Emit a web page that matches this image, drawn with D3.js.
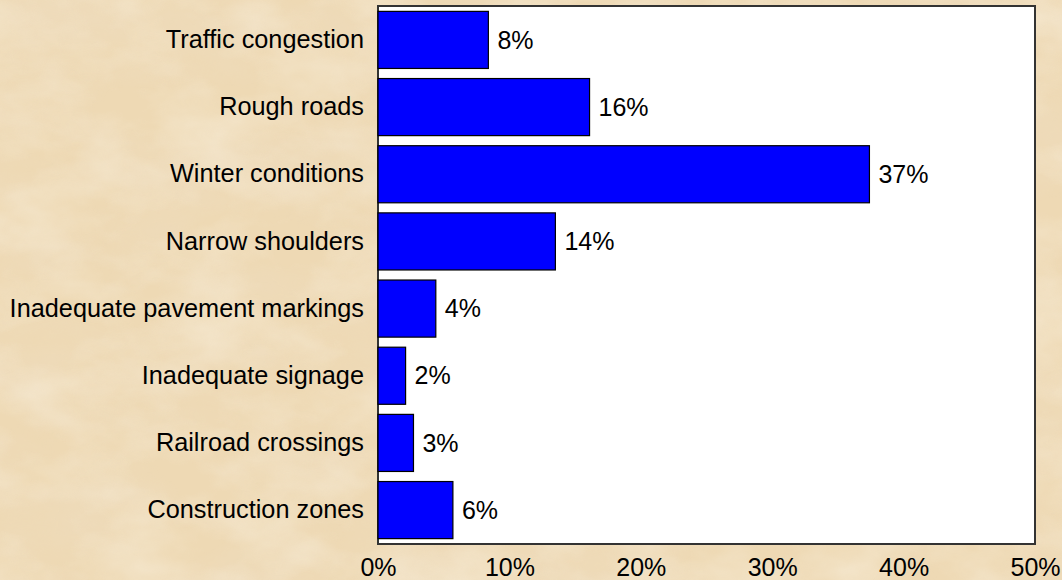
<!DOCTYPE html>
<html><head><meta charset="utf-8">
<script src="https://cdn.jsdelivr.net/npm/d3@7"></script>
<style>html,body{margin:0;padding:0;background:#efdcba;}svg{display:block;}</style>
</head><body>
<svg id="chart" width="1062" height="580"></svg>
<script>
const categories = ["Traffic congestion","Rough roads","Winter conditions","Narrow shoulders","Inadequate pavement markings","Inadequate signage","Railroad crossings","Construction zones"];
const values = [8.4, 16.1, 37.4, 13.5, 4.4, 2.1, 2.7, 5.7];
const valueLabels = ["8%","16%","37%","14%","4%","2%","3%","6%"];
const xTicks = [0,10,20,30,40,50];

const svg = d3.select("#chart");
const W = 1062, H = 580;
const m = {left:378, top:6, right:1035, bottom:544};
const font = "'Liberation Sans', Arial, sans-serif";
const fs = 25;

// parchment background (soft blotches)
const defs = svg.append("defs");
const f = defs.append("filter").attr("id","paper").attr("x",0).attr("y",0).attr("width","100%").attr("height","100%");
f.append("feTurbulence").attr("type","fractalNoise").attr("baseFrequency","0.008 0.015").attr("numOctaves",5).attr("seed",5).attr("result","noise");
f.append("feColorMatrix").attr("in","noise").attr("type","matrix")
 .attr("values","0 0 0 0 0.86  0 0 0 0 0.74  0 0 0 0 0.58  1.2 0 0 0 -0.45");
const f2 = defs.append("filter").attr("id","paper2").attr("x",0).attr("y",0).attr("width","100%").attr("height","100%");
f2.append("feTurbulence").attr("type","fractalNoise").attr("baseFrequency","0.012 0.02").attr("numOctaves",4).attr("seed",21).attr("result","noise");
f2.append("feColorMatrix").attr("in","noise").attr("type","matrix")
 .attr("values","0 0 0 0 0.97  0 0 0 0 0.92  0 0 0 0 0.82  1.2 0 0 0 -0.45");
svg.append("rect").attr("width",W).attr("height",H).attr("fill","#eed9b4");
svg.append("rect").attr("width",W).attr("height",H).attr("filter","url(#paper)").attr("opacity",0.5);
svg.append("rect").attr("width",W).attr("height",H).attr("filter","url(#paper2)").attr("opacity",0.6);

const x = d3.scaleLinear().domain([0,50]).range([m.left, m.right]);
const y = d3.scaleBand().domain(categories).range([m.top, m.bottom]).paddingInner(0.15).paddingOuter(0.08);

svg.append("rect").attr("x",m.left).attr("y",m.top).attr("width",m.right-m.left).attr("height",m.bottom-m.top)
  .attr("fill","#ffffff").attr("stroke","#333").attr("stroke-width",2);

svg.selectAll("rect.bar").data(values).enter().append("rect").attr("class","bar")
  .attr("x",x(0)).attr("y",(d,i)=>y(categories[i]))
  .attr("width",d=>x(d)-x(0)).attr("height",y.bandwidth())
  .attr("fill","#0000ff").attr("stroke","#000").attr("stroke-width",1.2);

svg.selectAll("text.val").data(values).enter().append("text").attr("class","val")
  .attr("x",d=>x(d)+9).attr("y",(d,i)=>y(categories[i])+y.bandwidth()/2).attr("dy","0.35em")
  .attr("font-family",font).attr("font-size",fs).attr("fill","#000")
  .text((d,i)=>valueLabels[i]);

const yAxis = svg.append("g").attr("transform",`translate(${m.left},0)`)
  .call(d3.axisLeft(y).tickSize(0).tickPadding(14));
yAxis.select(".domain").remove();
yAxis.selectAll("text").attr("font-family",font).attr("font-size",25.3).attr("fill","#000");

const xAxis = svg.append("g").attr("transform",`translate(0,${m.bottom})`)
  .call(d3.axisBottom(x).tickValues(xTicks).tickFormat(d=>d+"%").tickSize(0).tickPadding(14));
xAxis.select(".domain").remove();
xAxis.selectAll("text").attr("font-family",font).attr("font-size",fs).attr("fill","#000");
</script>
</body></html>
